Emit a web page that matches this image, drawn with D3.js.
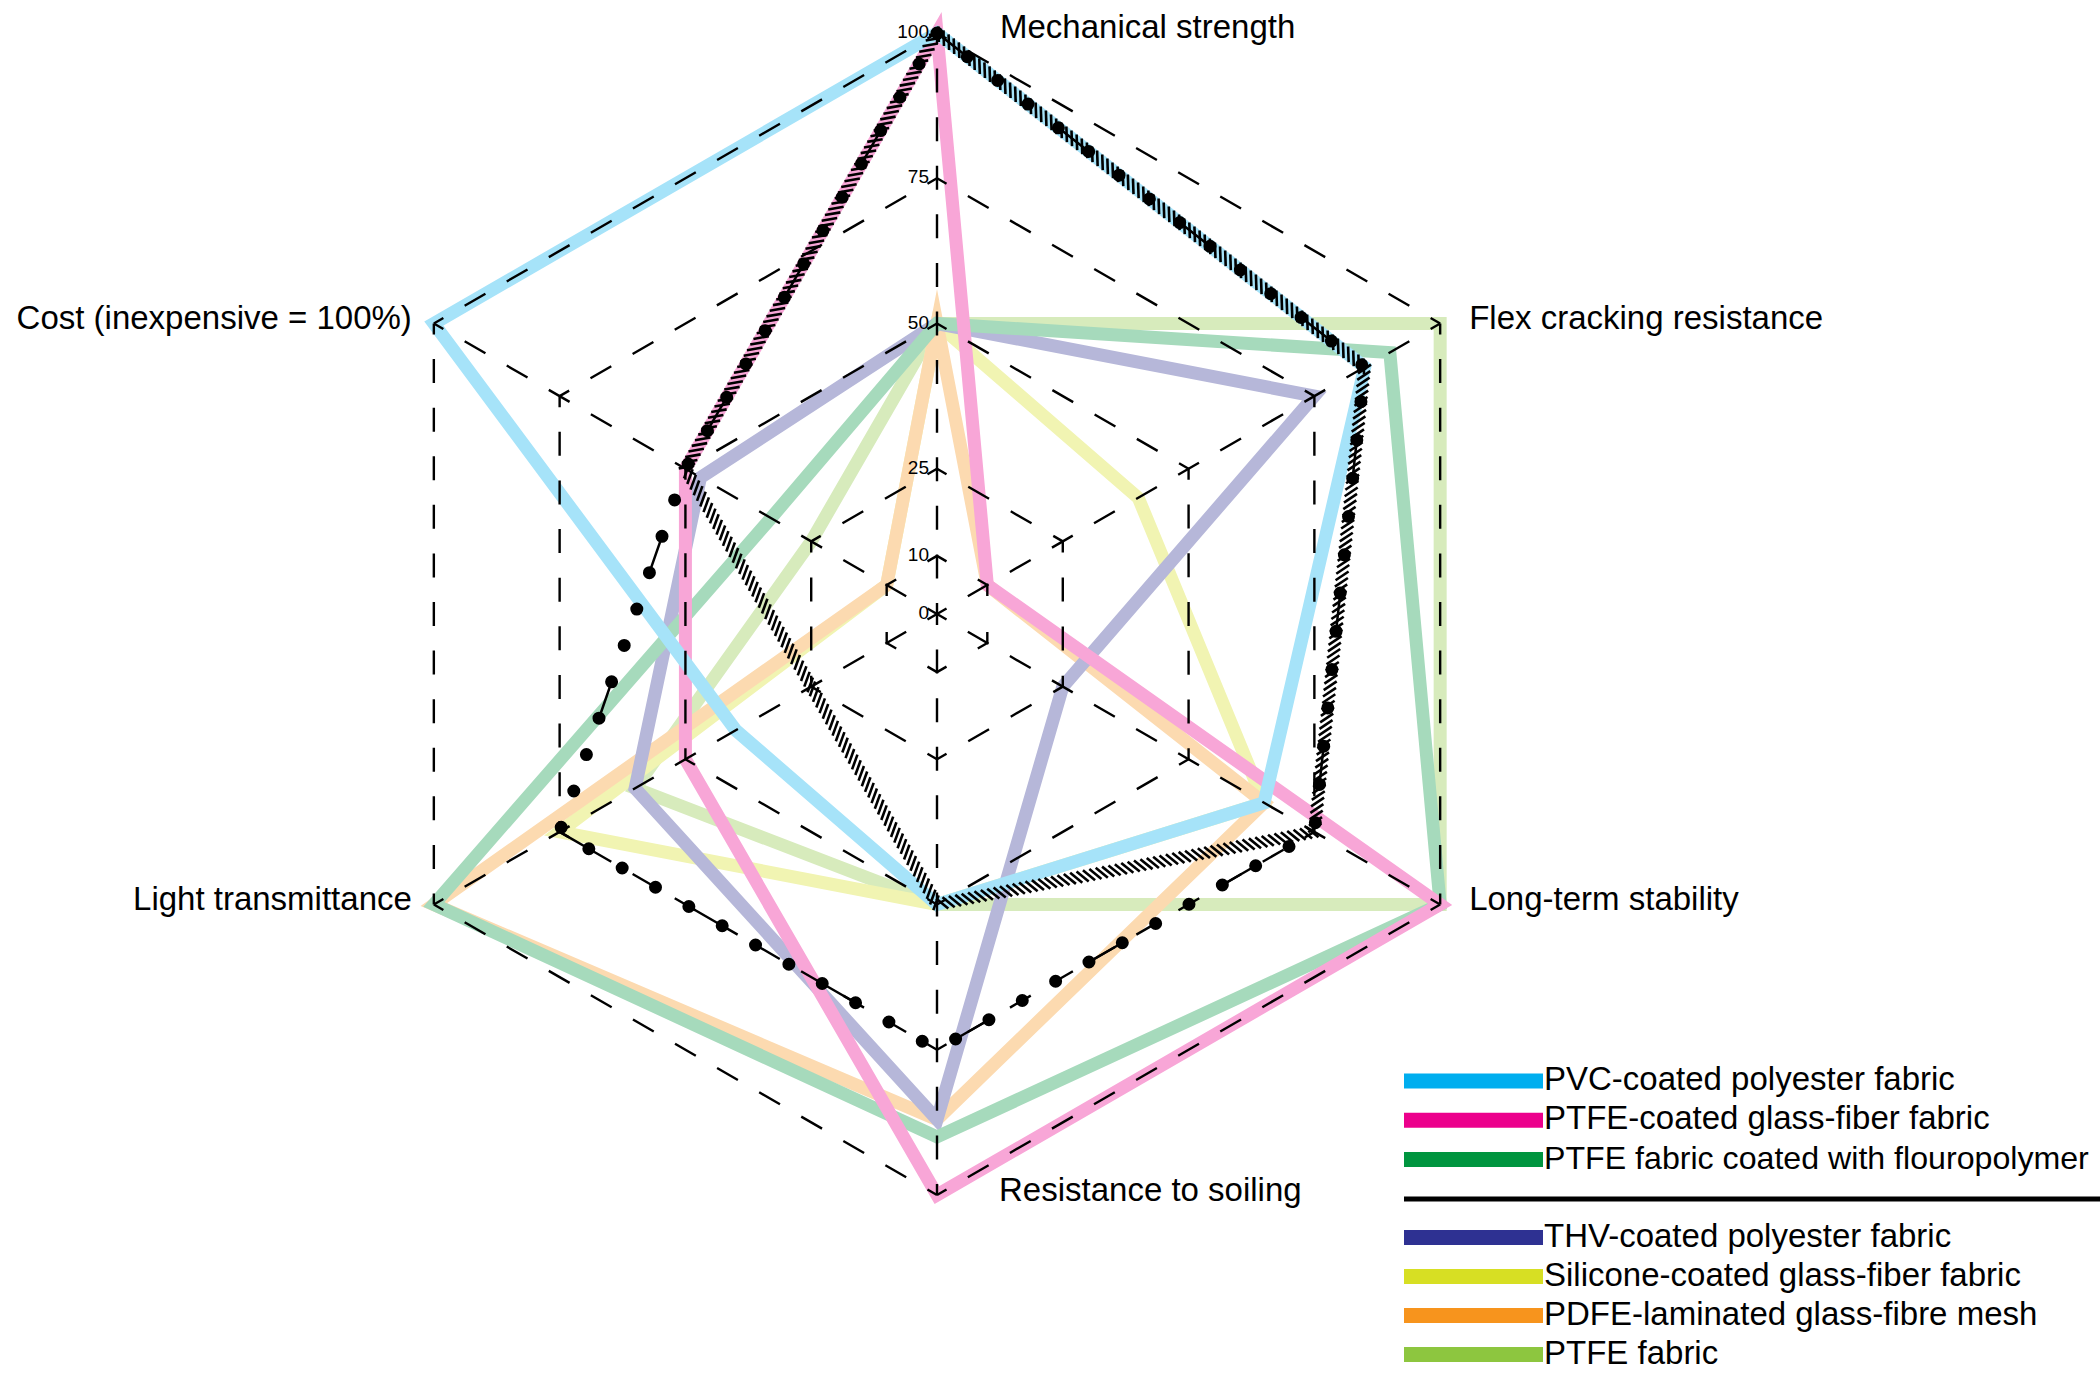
<!DOCTYPE html>
<html>
<head>
<meta charset="utf-8">
<script src="https://cdn.jsdelivr.net/npm/d3@7"></script>
<style>
    body{margin:0;background:#fff;}
    svg{display:block;}
    .axisLabel{font-family:"Liberation Sans",Arial,Helvetica,sans-serif;font-size:33px;fill:#000;}
    .levelLabel{font-family:"Liberation Sans",Arial,Helvetica,sans-serif;font-size:19px;fill:#000;}
    .legendLabel{font-family:"Liberation Sans",Arial,Helvetica,sans-serif;font-size:33px;fill:#000;}
</style>
</head>
<body>
<svg id="chart" width="2100" height="1374"></svg>
<script>
// axes, clockwise from the top
const axisNames = ["Mechanical strength", "Flex cracking resistance", "Long-term stability",
    "Resistance to soiling", "Light transmittance", "Cost (inexpensive = 100%)"];
const gridLevels = [10, 25, 50, 75, 100];
const levelLabels = [0, 10, 25, 50, 75, 100];

const seriesNames = ["PVC-coated polyester fabric", "PTFE-coated glass-fiber fabric",
    "PTFE fabric coated with flouropolymer", "THV-coated polyester fabric",
    "Silicone-coated glass-fiber fabric", "PDFE-laminated glass-fibre mesh", "PTFE fabric"];
const seriesColors = ["#00AEEF", "#EC008C", "#00953F", "#2E3192", "#D7DF23", "#F7941D", "#8DC63F"];

const pvcValues = [100, 85, 65, 50, 40, 100];
const ptfeGlassValues = [100, 10, 100, 100, 50, 50];
const fluoroValues = [50, 90, 100, 90, 100, 33];
const thvValues = [50, 75, 25, 87, 60, 47];
const siliconeValues = [50, 40, 65, 50, 75, 10];
const pdfeValues = [50, 10, 65, 87, 100, 10];
const ptfeFabricValues = [50, 100, 100, 50, 60, 25];
const seriesValues = [pvcValues, ptfeGlassValues, fluoroValues, thvValues, siliconeValues, pdfeValues, ptfeFabricValues];

// the two black profiles (not in the legend)
const hatchedValues = [100, 85, 75, 50, 25, 50];
const dottedValues = [100, 85, 75, 75, 75, 50];

// bottom to top
const drawOrder = [6, 4, 5, 3, 2, 1, 0];

const cx = 937, cy = 614, R = 581;
const svg = d3.select('#chart');
svg.append('rect').attr('width', 2100).attr('height', 1374).attr('fill', '#fff');

const rScale = d3.scaleLinear().domain([0, 100]).range([0, R]);
const angleScale = d3.scaleLinear().domain([0, axisNames.length]).range([0, 2 * Math.PI]);
const pt = (i, v) => {
    const a = angleScale(i % axisNames.length);
    return [rScale(v) * Math.sin(a), -rScale(v) * Math.cos(a)];
};

const radarLine = d3.lineRadial()
    .angle((d, i) => angleScale(i))
    .radius(d => rScale(d))
    .curve(d3.curveLinearClosed);

const g = svg.append('g').attr('transform', `translate(${cx},${cy})`);

// coloured series
const seriesG = g.append('g').attr('class', 'series');
drawOrder.forEach(k => {
    seriesG.append('path')
        .attr('d', radarLine(seriesValues[k]))
        .attr('fill', 'none')
        .attr('stroke', d3.interpolateRgb('#ffffff', seriesColors[k])(0.35))
        .attr('stroke-width', 13)
        .attr('stroke-linejoin', 'miter')
        .attr('stroke-miterlimit', 10);
});

// dash pattern that starts and ends with a short dash at the vertices
const symDash = (L, end = 11, dash = 24) => {
    const n = Math.max(0, Math.round((L - 2 * end - dash) / (2 * dash)));
    const gap = (L - 2 * end - n * dash) / (n + 1);
    const arr = [end, gap];
    for (let k = 0; k < n; k++) arr.push(dash, gap);
    arr.push(end, 10);
    return arr.join(' ');
};

const gridEdges = [];
gridLevels.forEach(lv => {
    d3.range(axisNames.length).forEach(i => {
        gridEdges.push({p0: pt(i, lv), p1: pt(i + 1, lv)});
    });
});
d3.range(axisNames.length).forEach(i => gridEdges.push({p0: [0, 0], p1: pt(i, 100)}));

g.append('g').attr('class', 'grid')
    .selectAll('line').data(gridEdges)
    .join('line')
    .attr('x1', d => d.p0[0]).attr('y1', d => d.p0[1])
    .attr('x2', d => d.p1[0]).attr('y2', d => d.p1[1])
    .attr('stroke', '#000')
    .attr('stroke-width', 2.4)
    .attr('stroke-dasharray', d => symDash(Math.hypot(d.p1[0] - d.p0[0], d.p1[1] - d.p0[1])));

// hatched profile: short skewed ticks along the outline
const hatchTicks = [];
d3.range(axisNames.length).forEach(i => {
    const p0 = pt(i, hatchedValues[i]), p1 = pt(i + 1, hatchedValues[(i + 1) % axisNames.length]);
    const L = Math.hypot(p1[0] - p0[0], p1[1] - p0[1]);
    const ux = (p1[0] - p0[0]) / L, uy = (p1[1] - p0[1]) / L;
    const a = Math.atan2(uy, ux) + 50 * Math.PI / 180;
    const h = 6 / Math.sin(50 * Math.PI / 180);
    for (let s = 2; s < L; s += 6.5) {
        const mx = p0[0] + ux * s, my = p0[1] + uy * s;
        hatchTicks.push({x1: mx - Math.cos(a) * h, y1: my - Math.sin(a) * h,
            x2: mx + Math.cos(a) * h, y2: my + Math.sin(a) * h});
    }
});
g.append('g').attr('class', 'hatched')
    .selectAll('line').data(hatchTicks)
    .join('line')
    .attr('x1', d => d.x1).attr('y1', d => d.y1)
    .attr('x2', d => d.x2).attr('y2', d => d.y2)
    .attr('stroke', '#000')
    .attr('stroke-width', 2.6);

// dotted profile
g.append('path')
    .attr('d', radarLine(dottedValues))
    .attr('fill', 'none')
    .attr('stroke', '#000')
    .attr('stroke-width', 2.5)
    .attr('stroke-dasharray', '38.5 115.5');
g.append('path')
    .attr('d', radarLine(dottedValues))
    .attr('fill', 'none')
    .attr('stroke', '#000')
    .attr('stroke-width', 13)
    .attr('stroke-linecap', 'round')
    .attr('stroke-dasharray', '0 38.5');

// level labels on the top spoke
g.append('g').selectAll('text').data(levelLabels)
    .join('text')
    .attr('class', 'levelLabel')
    .attr('x', -8)
    .attr('y', d => -rScale(d) + 5)
    .attr('text-anchor', 'end')
    .text(d => d);

// axis labels
const labelDx = [63, 29, 29, 62, -22, -22];
g.append('g').selectAll('text').data(axisNames)
    .join('text')
    .attr('class', 'axisLabel')
    .attr('x', (d, i) => pt(i, 100)[0] + labelDx[i])
    .attr('y', (d, i) => pt(i, 100)[1] - 6 + (i === 0 ? -1 : 0))
    .attr('dominant-baseline', 'central')
    .attr('text-anchor', (d, i) => labelDx[i] < 0 ? 'end' : 'start')
    .text(d => d);

// legend
const legendX = 1404, swatchW = 139;
const legendY = i => i < 3 ? 1081 + 39.3 * i : 1237.5 + 39 * (i - 3);
const legend = svg.append('g').attr('class', 'legend');
const items = legend.selectAll('g').data(seriesNames).join('g')
    .attr('transform', (d, i) => `translate(${legendX},${legendY(i)})`);
items.append('line')
    .attr('x1', 0).attr('x2', swatchW)
    .attr('stroke', (d, i) => seriesColors[i])
    .attr('stroke-width', 15);
items.append('text')
    .attr('class', 'legendLabel')
    .attr('x', swatchW + 1)
    .attr('y', 9)
    .text(d => d)
    .each(function () {
        // shrink a label a touch if it would run past the right edge
        const room = 2100 - legendX - swatchW - 12;
        const len = this.getComputedTextLength();
        if (len > room) {
            d3.select(this).style('font-size', (33 * room / len).toFixed(2) + 'px');
        }
    });
legend.append('line')
    .attr('x1', legendX).attr('x2', 2100)
    .attr('y1', 1199).attr('y2', 1199)
    .attr('stroke', '#000')
    .attr('stroke-width', 5);
</script>
</body>
</html>
